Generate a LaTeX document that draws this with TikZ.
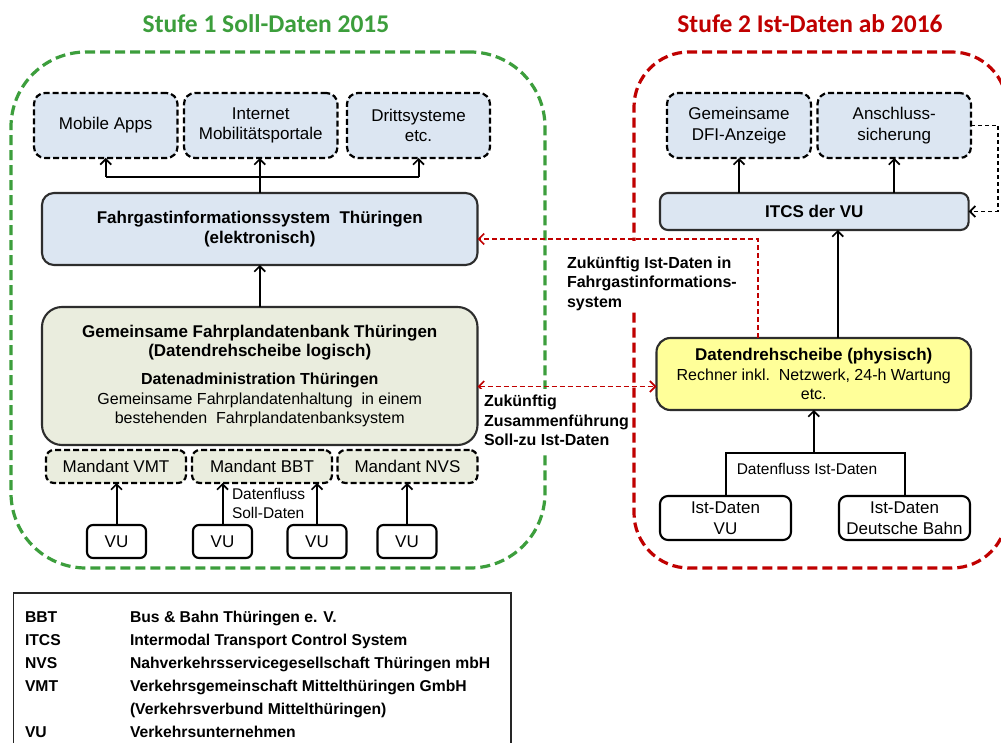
\documentclass[tikz,border=0pt]{standalone}
\usepackage{fontspec}
\setmainfont{Liberation Sans}
\newfontfamily\titlefont{Carlito}
\usetikzlibrary{arrows.meta,calc}
\definecolor{grn}{RGB}{60,158,60}
\definecolor{rd}{RGB}{192,0,0}
\definecolor{bluef}{RGB}{220,230,242}
\definecolor{grnf}{RGB}{234,237,222}
\definecolor{yel}{RGB}{255,255,153}
\definecolor{bord}{RGB}{45,45,45}
\newcommand\fsA{\fontsize{17}{20.5}\selectfont}
\newcommand\fsB{\fontsize{16}{19.5}\selectfont}
\newcommand\fsC{\fontsize{15.5}{19}\selectfont}
\newcommand\fsL{\fontsize{15.7}{23}\selectfont}
\begin{document}
\begin{tikzpicture}[x=1pt,y=-1pt,
  every node/.style={inner sep=0pt,outer sep=0pt},
  frame/.style={line width=3.2pt,dash pattern=on 10pt off 5pt},
  dashbox/.style={draw=black,line width=2.2pt,dash pattern=on 6pt off 3pt,rounded corners=11pt,fill=bluef,align=center,font=\fsA},
  solidbox/.style={draw=bord,line width=2.1pt,align=center,font=\fsA},
  conn/.style={draw=black,line width=2pt},
  tip/.style={-{Straight Barb[length=5.5pt,width=11pt,line width=1.7pt]}},
  arr/.style={conn,tip},
  darr/.style={draw=black,line width=1.6pt,dash pattern=on 4pt off 3pt,tip},
  redarr/.style={draw=rd,line width=1.9pt,dash pattern=on 5pt off 3pt,tip},
  redarrb/.style={draw=rd,line width=1.9pt,dash pattern=on 5pt off 3pt,{Straight Barb[length=5.5pt,width=11pt,line width=1.7pt]}-{Straight Barb[length=5.5pt,width=11pt,line width=1.7pt]}},
  lbl/.style={font=\fsB\bfseries,align=left,anchor=north west}
]
\useasboundingbox (0,0) rectangle (1001,743);
\fill[white] (0,0) rectangle (1001,743);

% stage frames
\node[draw=grn,frame,rounded corners=75pt,minimum width=534pt,minimum height=516pt] (stA) at (278,310) {};
\node[draw=rd,frame,rounded corners=55pt,minimum width=373pt,minimum height=516pt] (stB) at (820.5,310) {};
\node[font=\titlefont\fontsize{25.5}{28}\selectfont\bfseries,text=grn,anchor=base] (t1) at (266,33) {Stufe 1 Soll-Daten 2015};
\node[font=\titlefont\fontsize{25.5}{28}\selectfont\bfseries,text=rd,anchor=base] (t2) at (810,33) {Stufe 2 Ist-Daten ab 2016};

% left stage
\node[dashbox,minimum width=143.5pt,minimum height=65pt] (mob) at (105.75,125.5) {Mobile Apps};
\node[dashbox,minimum width=153.5pt,minimum height=65pt] (inet) at (260.75,125.5) {Internet\\Mobilitätsportale};
\node[dashbox,minimum width=143pt,minimum height=65pt] (dritt) at (418.5,125.5) {Drittsysteme\\etc.};
\node[solidbox,fill=bluef,rounded corners=12pt,minimum width=435.5pt,minimum height=72pt,font=\fsA\bfseries] (fis) at (259.75,229) {Fahrgastinformationssystem\ \ Thüringen\\(elektronisch)};
\node[solidbox,fill=grnf,rounded corners=20pt,minimum width=435.5pt,minimum height=138pt,font=\fsB] (gem) at (259.75,376) {{\fsA\bfseries Gemeinsame Fahrplandatenbank Thüringen}\\{\fsA\bfseries (Datendrehscheibe logisch)}\\[8pt]\textbf{Datenadministration Thüringen}\\Gemeinsame Fahrplandatenhaltung\ \ in einem\\bestehenden\ \ Fahrplandatenbanksystem};
\node[dashbox,fill=grnf,rounded corners=8pt,minimum width=140pt,minimum height=33pt] (mvmt) at (116,466.5) {Mandant VMT};
\node[dashbox,fill=grnf,rounded corners=8pt,minimum width=140pt,minimum height=33pt] (mbbt) at (262,466.5) {Mandant BBT};
\node[dashbox,fill=grnf,rounded corners=8pt,minimum width=140pt,minimum height=33pt] (mnvs) at (407.5,466.5) {Mandant NVS};
\node[solidbox,draw=black,fill=white,rounded corners=6pt,minimum width=59pt,minimum height=33pt] (vu1) at (116.5,541.5) {VU};
\node[solidbox,draw=black,fill=white,rounded corners=6pt,minimum width=59pt,minimum height=33pt] (vu2) at (222.5,541.5) {VU};
\node[solidbox,draw=black,fill=white,rounded corners=6pt,minimum width=59pt,minimum height=33pt] (vu3) at (317,541.5) {VU};
\node[solidbox,draw=black,fill=white,rounded corners=6pt,minimum width=59pt,minimum height=33pt] (vu4) at (407,541.5) {VU};
\node[font=\fsC,align=left,anchor=north west] (dfs) at (232,488) {Datenfluss\\Soll-Daten};

% right stage
\node[dashbox,minimum width=144pt,minimum height=65pt] (dfi) at (739,125.5) {Gemeinsame\\DFI-Anzeige};
\node[dashbox,minimum width=153.5pt,minimum height=65pt] (ans) at (894.25,125.5) {Anschluss-\\sicherung};
\node[solidbox,fill=bluef,rounded corners=8pt,minimum width=308.6pt,minimum height=37pt,font=\fsA\bfseries] (itcs) at (814.3,211.5) {ITCS der VU};
\node[solidbox,fill=yel,rounded corners=14pt,minimum width=314.5pt,minimum height=72pt,font=\fsB] (dds) at (813.75,374) {{\fsA\bfseries Datendrehscheibe (physisch)}\\Rechner inkl.\ \ Netzwerk, 24-h Wartung\\etc.};
\node[solidbox,draw=black,fill=white,rounded corners=8pt,minimum width=131pt,minimum height=44pt] (istvu) at (725.5,518) {Ist-Daten\\VU};
\node[solidbox,draw=black,fill=white,rounded corners=8pt,minimum width=131pt,minimum height=44pt] (istdb) at (904.5,518) {Ist-Daten\\Deutsche Bahn};
\node[font=\fsC,anchor=base] (dis) at (807,474) {Datenfluss Ist-Daten};

% connectors left
\draw[conn] (fis.north) -- ++(0,-16) coordinate (bus);
\draw[conn] (bus -| mob.south) -- (bus -| dritt.south);
\draw[arr] (bus -| mob.south) -- (mob.south);
\draw[arr] (bus) -- (bus |- inet.south);
\draw[arr] (bus -| dritt.south) -- (dritt.south);
\draw[arr] (gem.north) -- (fis.south);
\draw[arr] (vu1.north) -- (vu1.north |- mvmt.south);
\draw[arr] (vu2.north) -- (vu2.north |- mbbt.south);
\draw[arr] (vu3.north) -- (vu3.north |- mbbt.south);
\draw[arr] (vu4.north) -- (vu4.north |- mnvs.south);

% connectors right
\draw[arr] (itcs.north -| dfi.south) -- (dfi.south);
\draw[arr] (itcs.north -| ans.south) -- (ans.south);
\coordinate (dup) at ([xshift=24pt]dds.north);
\draw[arr] (dup) -- (dup |- itcs.south);
\draw[darr] (ans.east) -- ++(27,0) |- (itcs.east);
\coordinate (bk) at ([yshift=-43pt]dds.south);
\draw[conn] (istvu.north) |- (bk -| istdb.north) -- (istdb.north);
\draw[arr] (bk) -- (dds.south);

% red connectors
\coordinate (rup) at ([xshift=-56pt]dds.north);
\coordinate (fisr) at ([yshift=-10pt]fis.east);
\draw[redarr] (rup) |- (fisr);
\coordinate (gemr) at ([yshift=-10.5pt]gem.east);
\draw[redarrb] (gemr) -- (gemr -| dds.west);

% labels
\node[fill=white,minimum width=185pt,minimum height=70pt,anchor=north west] (lab1bg) at (556,241) {};
\node[lbl] (lab1) at (567,256.5) {Zukünftig Ist-Daten in\\Fahrgastinformations-\\system};
\node[fill=white,minimum width=152pt,minimum height=63pt,anchor=north west] (lab2bg) at (480,389) {};
\node[lbl] (lab2) at (484,395) {Zukünftig\\Zusammenführung\\Soll-zu Ist-Daten};

% legend
\node[draw=black!85,line width=1.3pt,minimum width=497.5pt,minimum height=200pt,anchor=north west] (leg) at (13.5,593) {};
\node[font=\fsL\bfseries,anchor=north west] (legt) at (25,606) {%
\begin{tabular}{@{}p{105pt}@{}l@{}}
BBT & Bus \& Bahn Thüringen e. V.\\
ITCS & Intermodal Transport Control System\\
NVS & Nahverkehrsservicegesellschaft Thüringen mbH\\
VMT & Verkehrsgemeinschaft Mittelthüringen GmbH\\
 & (Verkehrsverbund Mittelthüringen)\\
VU & Verkehrsunternehmen
\end{tabular}};
\end{tikzpicture}
\end{document}
